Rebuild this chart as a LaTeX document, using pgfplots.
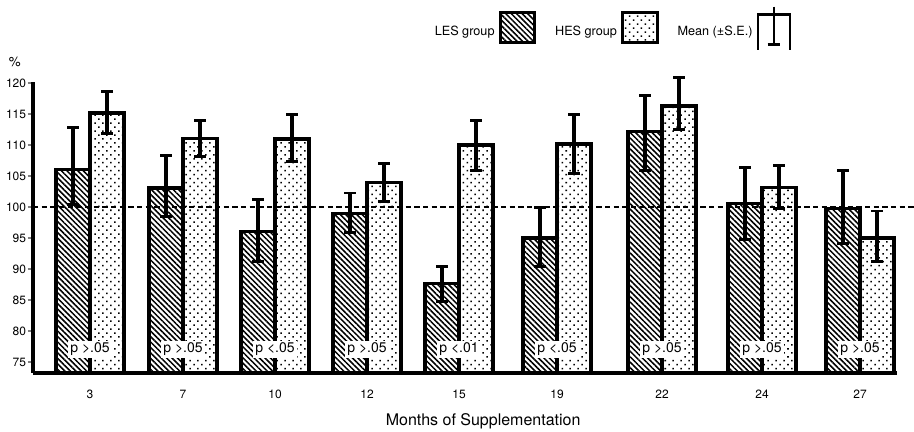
\documentclass[border=0pt]{standalone}
\usepackage{fontspec}
\setmainfont{TeX Gyre Heros}
\usepackage{pgfplots}
\pgfplotsset{compat=1.18}
\usetikzlibrary{patterns.meta}

% hatch and dot fills of the two groups
\tikzset{
  les/.style={pattern={Lines[angle=-45,distance=2.9pt,line width=1.15pt]},pattern color=black},
  hes/.style={pattern={Dots[angle=45,distance=4.2pt,radius=0.8pt]},pattern color=black},
  plab/.style={fill=white,inner sep=1.5pt,font=\fontsize{10.5}{12}\selectfont},
}

\begin{document}
\begin{tikzpicture}
\useasboundingbox (0,0) rectangle (685.5pt,324pt);
\begin{axis}[
    at={(24.75pt,44.25pt)}, anchor=south west,
    scale only axis,
    width=648pt, height=218.5pt,
    xmin=33, xmax=897,
    ymin=73.27, ymax=120.26,
    clip=false,
    axis lines=left,
    axis line style={-,line width=2.4pt},
    xtick={90,183,275,367,459,557,662,762,860},
    xticklabels={3,7,10,12,15,19,22,24,27},
    xtick style={draw=none},
    xticklabel style={yshift=-5pt},
    ytick={75,80,...,120},
    ytick style={line width=1.4pt},
    tick align=outside,
    major tick length=4pt,
    yticklabel style={inner sep=1pt},
    tick label style={font=\fontsize{9}{10}\selectfont},
    /pgf/number format/assume math mode=true,
    xlabel={Months of Supplementation},
    xlabel style={at={(axis description cs:0.521,-0.165)},anchor=center,font=\fontsize{12}{14}\selectfont},
    ylabel={\%},
    ylabel style={at={(axis description cs:-0.021,1.068)},rotate=-90,anchor=center,font=\fontsize{10}{12}\selectfont},
    legend plot pos=right,
    legend style={draw=none,fill=none,legend columns=3,
        at={(axis description cs:0.457,1.184)},anchor=west,
        font=\fontsize{9.5}{11}\selectfont,
        /tikz/every odd column/.append style={column sep=1pt},
        /tikz/every even column/.append style={column sep=12pt}},
]

\addplot[ybar, bar width=34, bar shift=0pt, draw=black, line width=2.7pt, les,
    legend image code/.code={\draw[les,draw=black,line width=2.4pt] (0pt,-7.9pt) rectangle (26pt,14.6pt);},
    error bars/.cd, y dir=both, y explicit,
    error bar style={line width=2.4pt,black},
    error mark options={rotate=90,mark size=4.5pt,line width=2.2pt,black}]
coordinates {
    (73,106.1) += (0,6.8) -= (0,5.6)
    (166,103.1) += (0,5.2) -= (0,4.6)
    (258,96.1) += (0,5.2) -= (0,4.8)
    (350,99.0) += (0,3.3) -= (0,3.0)
    (442,87.7) += (0,2.8) -= (0,2.9)
    (540,95.0) += (0,5.0) -= (0,4.5)
    (645,112.2) += (0,5.9) -= (0,6.2)
    (745,100.6) += (0,5.8) -= (0,5.8)
    (843,99.8) += (0,6.1) -= (0,5.7)
};
\addlegendentry{LES group}

\addplot[ybar, bar width=34, bar shift=0pt, draw=black, line width=2.7pt, hes,
    legend image code/.code={\draw[hes,draw=black,line width=2.4pt] (0pt,-7.9pt) rectangle (26pt,14.6pt);},
    error bars/.cd, y dir=both, y explicit,
    error bar style={line width=2.4pt,black},
    error mark options={rotate=90,mark size=4.5pt,line width=2.2pt,black}]
coordinates {
    (107,115.2) += (0,3.4) -= (0,3.3)
    (200,111.1) += (0,2.9) -= (0,2.9)
    (292,111.0) += (0,4.0) -= (0,3.6)
    (384,104.0) += (0,3.0) -= (0,3.0)
    (476,110.0) += (0,4.0) -= (0,4.0)
    (574,110.2) += (0,4.8) -= (0,4.7)
    (679,116.3) += (0,4.7) -= (0,3.8)
    (779,103.2) += (0,3.6) -= (0,3.4)
    (877,95.0) += (0,4.4) -= (0,3.7)
};
\addlegendentry{HES group}

\addlegendimage{legend image code/.code={
    \draw[line width=1.8pt] (0pt,-13.1pt) -- (0pt,13.15pt) -- (24pt,13.15pt) -- (24pt,-13.1pt);
    \draw[line width=1.8pt] (12pt,19.15pt) -- (12pt,-9.35pt);
    \draw[line width=1.8pt] (7.5pt,-9.35pt) -- (16.5pt,-9.35pt);}}
\addlegendentry{Mean (±S.E.)}

% reference line at 100 %
\addplot[forget plot, line width=1.4pt, dash pattern=on 4pt off 2.5pt] coordinates {(33,100) (914,100)};

\node[plab] at (axis cs:90,77.1) {p >.05};
\node[plab] at (axis cs:183,77.1) {p >.05};
\node[plab] at (axis cs:275,77.1) {p <.05};
\node[plab] at (axis cs:367,77.1) {p >.05};
\node[plab] at (axis cs:459,77.1) {p <.01};
\node[plab] at (axis cs:557,77.1) {p <.05};
\node[plab] at (axis cs:662,77.1) {p >.05};
\node[plab] at (axis cs:762,77.1) {p >.05};
\node[plab] at (axis cs:860,77.1) {p >.05};
\end{axis}
\end{tikzpicture}
\end{document}
